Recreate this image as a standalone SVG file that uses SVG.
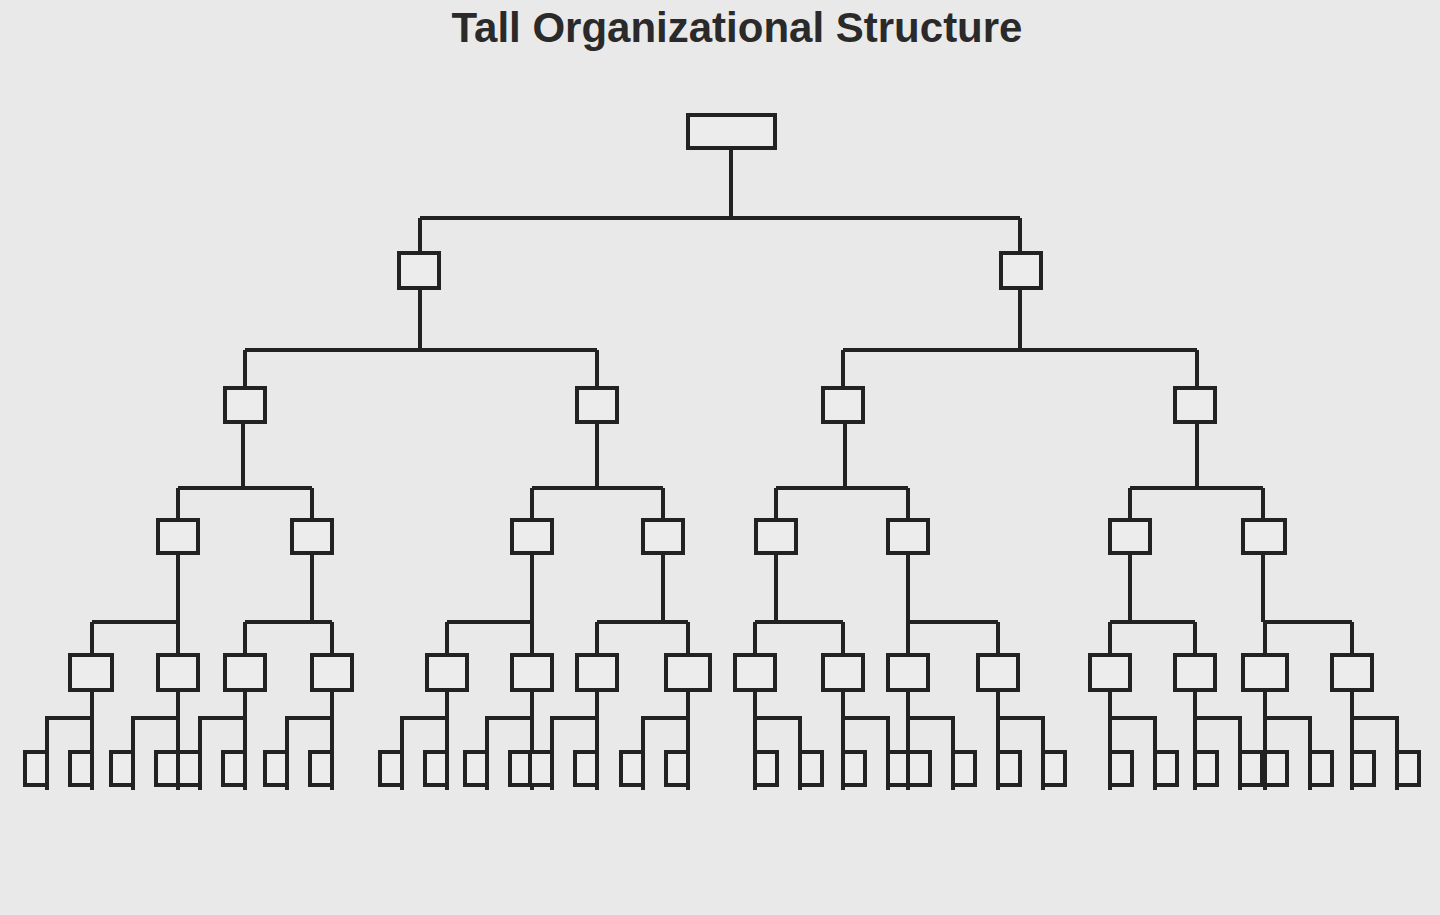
<svg xmlns="http://www.w3.org/2000/svg" width="1440" height="915" viewBox="0 0 1440 915">
<style>
.n{fill:#ececec;stroke:#222;stroke-width:4}
.c{fill:none;stroke:#222;stroke-width:4}
.t{font-family:"Liberation Sans",Arial,sans-serif;font-size:42px;font-weight:bold;fill:#2a2a2a;text-anchor:middle}
</style>
<rect width="1440" height="915" fill="#e9e9e9"/>
<text class="t" x="737" y="42">Tall Organizational Structure</text>
<g id="connectors" class="c">
<path d="M731 148V218M420 218H1020M420 218V253M1020 218V253"/>
<path d="M420 288V350M245 350H597M245 350V388M597 350V388M1020 288V350M843 350H1197M843 350V388M1197 350V388"/>
<path d="M243 422V488M178 488H312M178 488V520M312 488V520M597 422V488M532 488H663M532 488V520M663 488V520M845 422V488M776 488H908M776 488V520M908 488V520M1197 422V488M1130 488H1263M1130 488V520M1263 488V520"/>
<path d="M178 553V622M92 622H178M92 622V655M178 622V655M312 553V622M245 622H332M245 622V655M332 622V655M532 553V622M447 622H532M447 622V655M532 622V655M663 553V622M597 622H688M597 622V655M688 622V655"/>
<path d="M776 553V622M755 622H843M755 622V655M843 622V655M908 553V622M908 622H998M908 622V655M998 622V655M1130 553V622M1110 622H1195M1110 622V655M1195 622V655M1263 553V622M1265 622H1352M1265 622V655M1352 622V655"/>
<path d="M92 690V790M92 718H47V790M178 690V790M178 718H133V790M245 690V790M245 718H200V790M332 690V790M332 718H287V790M447 690V790M447 718H402V790M532 690V790M532 718H487V790M597 690V790M597 718H552V790M688 690V790M688 718H643V790"/>
<path d="M755 690V790M755 718H800V790M843 690V790M843 718H888V790M908 690V790M908 718H953V790M998 690V790M998 718H1043V790M1110 690V790M1110 718H1155V790M1195 690V790M1195 718H1240V790M1265 690V790M1265 718H1310V790M1352 690V790M1352 718H1397V790"/>
</g>
<g id="root"><rect class="n" x="688" y="115" width="87" height="33"/></g>
<g id="l1"><rect class="n" x="399" y="253" width="40" height="35"/><rect class="n" x="1001" y="253" width="40" height="35"/></g>
<g id="l2"><rect class="n" x="225" y="388" width="40" height="34"/><rect class="n" x="577" y="388" width="40" height="34"/><rect class="n" x="823" y="388" width="40" height="34"/><rect class="n" x="1175" y="388" width="40" height="34"/></g>
<g id="l3"><rect class="n" x="158" y="520" width="40" height="33"/><rect class="n" x="292" y="520" width="40" height="33"/><rect class="n" x="512" y="520" width="40" height="33"/><rect class="n" x="643" y="520" width="40" height="33"/><rect class="n" x="756" y="520" width="40" height="33"/><rect class="n" x="888" y="520" width="40" height="33"/><rect class="n" x="1110" y="520" width="40" height="33"/><rect class="n" x="1243" y="520" width="42" height="33"/></g>
<g id="l4"><rect class="n" x="70" y="655" width="42" height="35"/><rect class="n" x="158" y="655" width="40" height="35"/><rect class="n" x="225" y="655" width="40" height="35"/><rect class="n" x="312" y="655" width="40" height="35"/><rect class="n" x="427" y="655" width="40" height="35"/><rect class="n" x="512" y="655" width="40" height="35"/><rect class="n" x="577" y="655" width="40" height="35"/><rect class="n" x="666" y="655" width="44" height="35"/><rect class="n" x="735" y="655" width="40" height="35"/><rect class="n" x="823" y="655" width="40" height="35"/><rect class="n" x="888" y="655" width="40" height="35"/><rect class="n" x="978" y="655" width="40" height="35"/><rect class="n" x="1090" y="655" width="40" height="35"/><rect class="n" x="1175" y="655" width="40" height="35"/><rect class="n" x="1243" y="655" width="44" height="35"/><rect class="n" x="1332" y="655" width="40" height="35"/></g>
<g id="leaves" class="n">
<rect x="25" y="752" width="22" height="33"/><rect x="70" y="752" width="22" height="33"/><rect x="111" y="752" width="22" height="33"/><rect x="156" y="752" width="22" height="33"/><rect x="178" y="752" width="22" height="33"/><rect x="223" y="752" width="22" height="33"/><rect x="265" y="752" width="22" height="33"/><rect x="310" y="752" width="22" height="33"/><rect x="380" y="752" width="22" height="33"/><rect x="425" y="752" width="22" height="33"/><rect x="465" y="752" width="22" height="33"/><rect x="510" y="752" width="22" height="33"/><rect x="530" y="752" width="22" height="33"/><rect x="575" y="752" width="22" height="33"/><rect x="621" y="752" width="22" height="33"/><rect x="666" y="752" width="22" height="33"/>
<rect x="755" y="752" width="22" height="33"/><rect x="800" y="752" width="22" height="33"/><rect x="843" y="752" width="22" height="33"/><rect x="888" y="752" width="22" height="33"/><rect x="908" y="752" width="22" height="33"/><rect x="953" y="752" width="22" height="33"/><rect x="998" y="752" width="22" height="33"/><rect x="1043" y="752" width="22" height="33"/><rect x="1110" y="752" width="22" height="33"/><rect x="1155" y="752" width="22" height="33"/><rect x="1195" y="752" width="22" height="33"/><rect x="1240" y="752" width="22" height="33"/><rect x="1265" y="752" width="22" height="33"/><rect x="1310" y="752" width="22" height="33"/><rect x="1352" y="752" width="22" height="33"/><rect x="1397" y="752" width="22" height="33"/>
</g>
</svg>
